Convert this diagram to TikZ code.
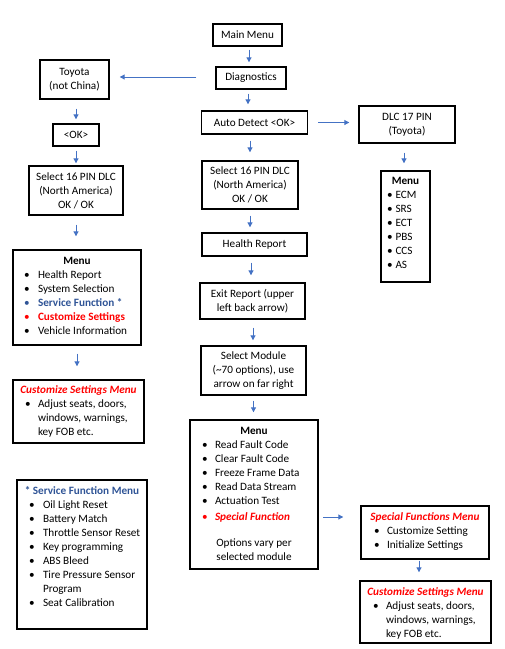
\documentclass[tikz,border=0pt]{standalone}
\usepackage{fontspec}
\setmainfont{Carlito}
\usetikzlibrary{arrows.meta,calc}
\definecolor{arrblue}{HTML}{4472C4}
\definecolor{txtblue}{HTML}{2F5496}
\definecolor{txtred}{HTML}{FF0000}
\newcommand\Ln{\vrule height 10pt depth 4pt width 0pt}
\newcommand\Ttl[1]{\par\noindent\Ln\makebox[\linewidth][c]{#1}\par}
\newcommand\Bul[4][black]{\par\noindent\Ln\rlap{\hspace{#2}\makebox[0pt][c]{\color{#1}\textbullet}}\hspace{#3}#4\par}
\newcommand\Cnt[2]{\par\noindent\Ln\hspace{#1}#2\par}
\newcommand\Lbox[4]{\parbox[t][#2][t]{#1}{\parskip=0pt\parindent=0pt\vspace*{#3}#4}}
\tikzset{
  box/.style={draw, line width=1.4pt, inner sep=0pt, align=center, font=\fontsize{11.2}{14}\selectfont},
  lbox/.style={draw, line width=1.4pt, inner sep=0pt, font=\fontsize{11.2}{14}\selectfont},
  arr/.style={draw=arrblue, line width=1pt, -{Triangle[length=5pt,width=5pt]}}
}
\begin{document}
\begin{tikzpicture}[x=1pt,y=-1pt]
\useasboundingbox (0,0) rectangle (505,649);
% simple boxes
\node[box, minimum width=69pt, minimum height=22pt] (main) at (247.5,35) {Main Menu};
\node[box, minimum width=70pt, minimum height=22pt] (diag) at (251,78) {Diagnostics};
\node[box, minimum width=69pt, minimum height=39pt] (toyota) at (74.5,79.5) {Toyota\\(not China)};
\node[box, minimum width=46pt, minimum height=22pt] (ok) at (76,135) {<OK>};
\node[box, minimum width=94pt, minimum height=49pt] (sel16L) at (76,190.5) {Select 16 PIN DLC\\(North America)\\OK / OK};
\node[box, minimum width=106pt, minimum height=23pt] (auto) at (254.5,122.5) {Auto Detect <OK>};
\node[box, minimum width=96pt, minimum height=37pt] (dlc17) at (407,124.5) {DLC 17 PIN\\(Toyota)};
\node[box, minimum width=96pt, minimum height=48pt] (sel16M) at (250,185) {Select 16 PIN DLC\\(North America)\\OK / OK};
\node[box, minimum width=105pt, minimum height=23pt] (health) at (254.5,244.5) {Health Report};
\node[box, minimum width=105pt, minimum height=36pt] (exit) at (252.5,301) {Exit Report (upper\\left back arrow)};
\node[box, minimum width=105pt, minimum height=49pt] (selmod) at (253.5,370.5) {Select Module\\(\textasciitilde70 options), use\\arrow on far right};
% list boxes
\node[lbox] (menuR) at (405.5,226.5) {\Lbox{49pt}{111pt}{3.5pt}{%
  \Ttl{\textbf{Menu}}%
  \Bul{9pt}{14.5pt}{ECM}\Bul{9pt}{14.5pt}{SRS}\Bul{9pt}{14.5pt}{ECT}%
  \Bul{9pt}{14.5pt}{PBS}\Bul{9pt}{14.5pt}{CCS}\Bul{9pt}{14.5pt}{AS}}};
\node[lbox] (menuL) at (77,297.5) {\Lbox{128pt}{95pt}{4.5pt}{%
  \Ttl{\textbf{Menu}}%
  \Bul{14pt}{25pt}{Health Report}%
  \Bul{14pt}{25pt}{System Selection}%
  \Bul[txtblue]{14pt}{25pt}{\textcolor{txtblue}{\textbf{Service Function *}}}%
  \Bul[txtred]{14pt}{25pt}{\textcolor{txtred}{\textbf{Customize Settings}}}%
  \Bul{14pt}{25pt}{Vehicle Information}}};
\node[lbox] (custL) at (78.5,411.5) {\Lbox{131pt}{63pt}{3.5pt}{%
  \Ttl{\textcolor{txtred}{\textbf{\textit{Customize Settings Menu}}}}%
  \Bul{15pt}{25pt}{Adjust seats, doors,}%
  \Cnt{25pt}{windows, warnings,}%
  \Cnt{25pt}{key FOB etc.}}};
\node[lbox] (menuM) at (254,494.5) {\Lbox{128pt}{149pt}{4.5pt}{%
  \Ttl{\textbf{Menu}}%
  \Bul{15pt}{25pt}{Read Fault Code}%
  \Bul{15pt}{25pt}{Clear Fault Code}%
  \Bul{15pt}{25pt}{Freeze Frame Data}%
  \Bul{15pt}{25pt}{Read Data Stream}%
  \Bul{15pt}{25pt}{Actuation Test}%
  \vspace{2pt}%
  \Bul[txtred]{15pt}{25pt}{\textcolor{txtred}{\textbf{\textit{Special Function}}}}%
  \vspace{12pt}%
  \Ttl{Options vary per}%
  \Ttl{selected module}}};
\node[lbox] (servf) at (82,554.5) {\Lbox{130pt}{149pt}{4.5pt}{%
  \Ttl{\textcolor{txtblue}{\textbf{* Service Function Menu}}}%
  \Bul{15pt}{26pt}{Oil Light Reset}%
  \Bul{15pt}{26pt}{Battery Match}%
  \Bul{15pt}{26pt}{Throttle Sensor Reset}%
  \Bul{15pt}{26pt}{Key programming}%
  \Bul{15pt}{26pt}{ABS Bleed}%
  \Bul{15pt}{26pt}{Tire Pressure Sensor}%
  \Cnt{26pt}{Program}%
  \Bul{15pt}{26pt}{Seat Calibration}}};
\node[lbox] (special) at (425,532.5) {\Lbox{128pt}{53pt}{4.5pt}{%
  \Ttl{\textcolor{txtred}{\textbf{\textit{Special Functions Menu}}}}%
  \Bul{16pt}{26pt}{Customize Setting}%
  \Bul{16pt}{26pt}{Initialize Settings}}};
\node[lbox] (custR) at (425.5,612) {\Lbox{131pt}{62pt}{4.5pt}{%
  \Ttl{\textcolor{txtred}{\textbf{\textit{Customize Settings Menu}}}}%
  \Bul{16pt}{26pt}{Adjust seats, doors,}%
  \Cnt{26pt}{windows, warnings,}%
  \Cnt{26pt}{key FOB etc.}}};
% arrows, middle column
\draw[arr, shorten <=3pt, shorten >=4pt] ([xshift=1.5pt]main.south) -- ([xshift=1.5pt]main.south |- diag.north);
\draw[arr, shorten <=4pt, shorten >=6pt] ([xshift=-3pt]diag.south) -- ([xshift=-3pt]diag.south |- auto.north);
\draw[arr, shorten <=6pt, shorten >=8pt] ([xshift=-4.5pt]auto.south) -- ([xshift=-4.5pt]auto.south |- sel16M.north);
\draw[arr, shorten <=6pt, shorten >=5pt] (sel16M.south) -- (sel16M.south |- health.north);
\draw[arr, shorten <=6pt, shorten >=7pt] ([xshift=-3.5pt]health.south) -- ([xshift=-3.5pt]health.south |- exit.north);
\draw[arr, shorten <=8pt, shorten >=5pt] ([xshift=0.5pt]exit.south) -- ([xshift=0.5pt]exit.south |- selmod.north);
\draw[arr, shorten <=5pt, shorten >=7pt] (selmod.south) -- (selmod.south |- menuM.north);
% left column
\draw[arr, shorten <=19pt, shorten >=10pt] ([yshift=1pt]diag.west) -- ([yshift=1pt]diag.west -| toyota.east);
\draw[arr, shorten <=9pt, shorten >=4pt] ([xshift=1.5pt]toyota.south) -- ([xshift=1.5pt]toyota.south |- ok.north);
\draw[arr, shorten <=4pt, shorten >=2pt] (ok.south) -- (ok.south |- sel16L.north);
\draw[arr, shorten <=9pt, shorten >=13pt] (sel16L.south) -- (sel16L.south |- menuL.north);
\draw[arr, shorten <=8pt, shorten >=13pt] (menuL.south) -- (menuL.south |- custL.north);
% right column
\draw[arr, shorten <=10pt, shorten >=9pt] (auto.east) -- (auto.east -| dlc17.west);
\draw[arr, shorten <=9pt, shorten >=7pt] ([xshift=-3pt]dlc17.south) -- ([xshift=-3pt]dlc17.south |- menuR.north);
\coordinate (sfrow) at (318,517);
\draw[arr, shorten <=5pt, shorten >=17pt] (sfrow) -- (sfrow -| special.west);
\draw[arr, shorten <=1pt, shorten >=8pt] ([xshift=-6pt]special.south) -- ([xshift=-6pt]special.south |- custR.north);
\end{tikzpicture}
\end{document}
